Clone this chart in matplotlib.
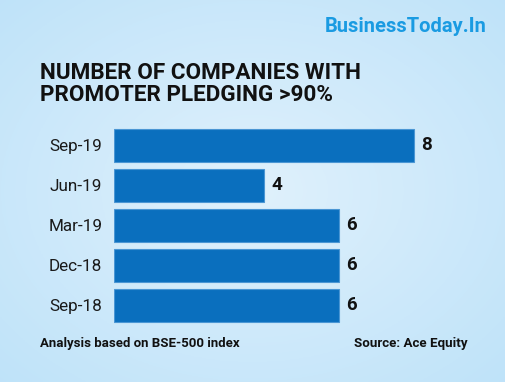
import matplotlib

matplotlib.use("Agg")

import matplotlib.pyplot as plt
import numpy as np

# ---------- data ----------
quarters = ["Sep-19", "Jun-19", "Mar-19", "Dec-18", "Sep-18"]
companies = [8, 4, 6, 6, 6]

TITLE = "NUMBER OF COMPANIES WITH\nPROMOTER PLEDGING >90%"
NOTE = "Analysis based on BSE-500 index"
SOURCE = "Source: Ace Equity"
BRAND = "BusinessToday.In"

BAR_COLOR = "#0a6fbe"
FONT = ["Roboto", "DejaVu Sans"]

W, H = 505, 382
fig = plt.figure(figsize=(W / 100, H / 100), dpi=100)

# ---------- background: soft radial gradient ----------
bg = fig.add_axes([0, 0, 1, 1])
yy, xx = np.mgrid[0:1:200j, 0:1:260j]
r = np.sqrt(((xx - 0.5) / 0.75) ** 2 + ((yy - 0.5) / 0.75) ** 2)
r = np.clip(r, 0, 1)
light = np.array([0xe0, 0xf1, 0xfc]) / 255
dark = np.array([0xbd, 0xe2, 0xf9]) / 255
img = light[None, None, :] * (1 - r[..., None]) + dark[None, None, :] * r[..., None]
bg.imshow(img, aspect="auto", extent=[0, 1, 0, 1], origin="lower")
bg.set_axis_off()

# ---------- bars ----------
ax = fig.add_axes([114 / W, 57 / H, 386 / W, 200 / H])
ax.set_facecolor("none")
ypos = np.arange(len(quarters))
ax.barh(ypos, companies, height=0.825, color=BAR_COLOR,
        edgecolor="#4a96d4", linewidth=0.8)
ax.set_xlim(0, 386 / 37.5)
ax.set_ylim(len(quarters) - 0.5, -0.5)
ax.set_yticks(ypos)
ax.set_yticklabels(quarters, fontsize=12.3, family=FONT, color="#1a1a1a")
ax.tick_params(axis="y", length=0, pad=8.5)
ax.set_xticks([])
for s in ax.spines.values():
    s.set_visible(False)

for y, v in zip(ypos, companies):
    ax.text(v + 0.2, y, str(v), va="center", ha="left", fontsize=13.5,
            fontweight="bold", family=FONT, color="#111111")

# ---------- text ----------
fig.text(40 / W, 1 - 62 / H, TITLE, ha="left", va="top", fontsize=16.2,
         fontweight="bold", family=FONT, color="#111111", linespacing=1.0)
fig.text(487 / W, 1 - 26 / H, BRAND, ha="right", va="center", fontsize=14.5,
         fontweight="bold", family=FONT, color="#1a9be2")
fig.text(40 / W, 1 - 344 / H, NOTE, ha="left", va="center", fontsize=9.5,
         fontweight="bold", family=FONT, color="#111111")
fig.text(468 / W, 1 - 344 / H, SOURCE, ha="right", va="center", fontsize=9.6,
         fontweight="bold", family=FONT, color="#111111")

fig.savefig("out.png", dpi=100)
